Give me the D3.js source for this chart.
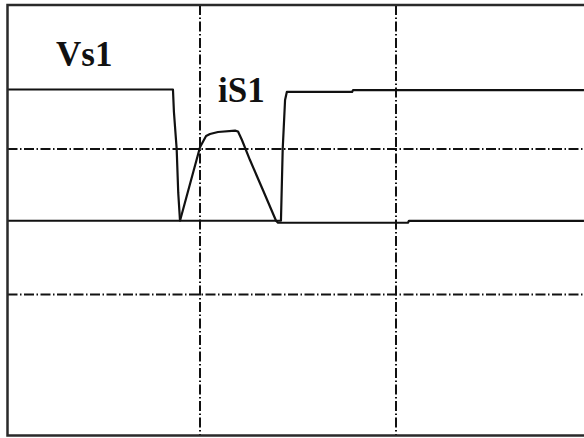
<!DOCTYPE html>
<html>
<head>
<meta charset="utf-8">
<script src="https://cdn.jsdelivr.net/npm/d3@7"></script>
<style>
  html, body { margin: 0; padding: 0; background: #fff; }
  svg { display: block; }
</style>
</head>
<body>
<svg id="chart" width="584" height="438"></svg>
<script>
// ---- data (time in grid divisions, amplitude in grid divisions) ----
const seriesNames = ["Vs1", "iS1"];
const vs1T = [0.018, 0.862, 0.867, 0.881, 0.889, 0.898, 1.413, 1.422, 1.434, 1.443, 1.776, 1.781, 2.959];
const vs1V = [1.409, 1.409, 1.254, 1.000, 0.698, 0.507, 0.507, 1.000, 1.337, 1.392, 1.392, 1.405, 1.405];
const is1T = [0.018, 0.898, 1.000, 1.015, 1.031, 1.051, 1.092, 1.179, 1.194, 1.214, 1.255, 1.321, 1.388, 1.398, 2.061, 2.066, 2.959];
const is1V = [0.507, 0.507, 1.012, 1.050, 1.089, 1.103, 1.117, 1.126, 1.120, 1.062, 0.924, 0.718, 0.507, 0.493, 0.493, 0.506, 0.506];
const gridT = [1, 2];
const gridV = [0, 1];

// ---- layout ----
const W = 584, H = 438;
const frame = { left: 7.5, top: 5, bottom: 435.5 };
const x = d3.scaleLinear().domain([0, 3]).range([4, 592]);
const y = d3.scaleLinear().domain([-1, 2]).range([440, 3.5]);

const svg = d3.select("#chart");

// grid (dash-dot)
const gridG = svg.append("g")
  .attr("stroke", "#111")
  .attr("stroke-width", 2)
  .attr("stroke-dasharray", "10,2.5,1.5,2.5")
  .attr("fill", "none");

gridG.selectAll("line.v").data(gridT).join("line")
  .attr("class", "v")
  .attr("x1", d => x(d)).attr("x2", d => x(d))
  .attr("y1", frame.top).attr("y2", frame.bottom);

gridG.selectAll("line.h").data(gridV).join("line")
  .attr("class", "h")
  .attr("x1", frame.left).attr("x2", W)
  .attr("y1", d => y(d)).attr("y2", d => y(d));

// traces
const line = d3.line().x(d => x(d[0])).y(d => y(d[1])).curve(d3.curveLinear);
const traces = [
  d3.zip(vs1T, vs1V),
  d3.zip(is1T, is1V)
];
svg.append("g").selectAll("path").data(traces).join("path")
  .attr("d", line)
  .attr("fill", "none")
  .attr("stroke", "#111")
  .attr("stroke-width", 2.2)
  .attr("stroke-linejoin", "round");

// frame (left, top, bottom; right edge is off-canvas)
svg.append("path")
  .attr("d", `M${W + 5},${frame.top}H${frame.left}V${frame.bottom}H${W + 5}`)
  .attr("fill", "none")
  .attr("stroke", "#2a2a2a")
  .attr("stroke-width", 2.5);

// labels
const labelPos = [[56, 66], [218, 102]];
svg.append("g").selectAll("text").data(seriesNames).join("text")
  .attr("x", (d, i) => labelPos[i][0])
  .attr("y", (d, i) => labelPos[i][1])
  .attr("font-family", "'Liberation Serif', 'Times New Roman', serif")
  .attr("font-weight", "bold")
  .attr("font-size", 35)
  .attr("fill", "#111")
  .text(d => d);
</script>
</body>
</html>
